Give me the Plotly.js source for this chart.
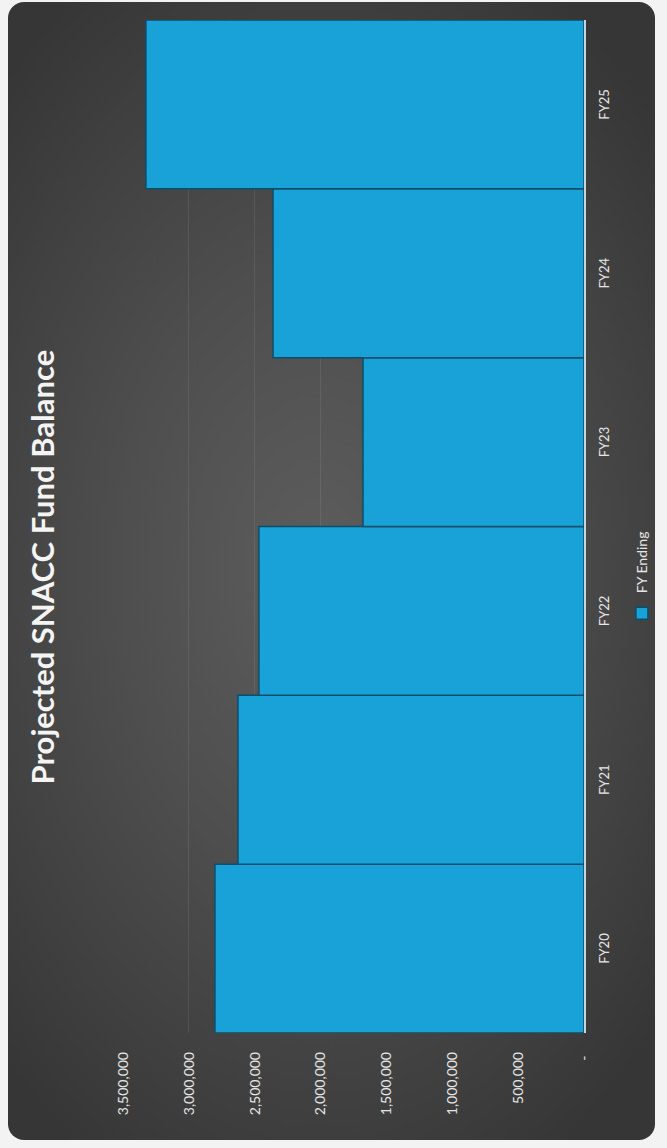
<!DOCTYPE html>
<html>
<head>
<meta charset="utf-8">
<script src="https://cdn.plot.ly/plotly-3.0.1.min.js"></script>
<style>
  html, body { margin:0; padding:0; background:#f3f3f3; width:667px; height:1148px; overflow:hidden; }
  #rot { position:absolute; left:0; top:0; width:1148px; height:667px;
         transform-origin:0 0; transform: translateY(1148px) rotate(-90deg); }
  #card { position:absolute; left:8px; top:8px; width:1138px; height:647px; border-radius:16px;
          background: radial-gradient(ellipse 60% 70% at 50% 48%, #5d5d5d 0%, #4e4e4e 45%, #3f3f3f 80%, #363636 100%); }
  #chart { position:absolute; left:0; top:0; width:1148px; height:667px; }
</style>
</head>
<body>
<div id="rot">
  <div id="card"></div>
  <div id="chart"></div>
</div>
<script>
const categories = ['FY20', 'FY21', 'FY22', 'FY23', 'FY24', 'FY25'];
const fyEnding = [2802000, 2627000, 2468000, 1678000, 2361000, 3326000];
const tickValues = [0, 500000, 1000000, 1500000, 2000000, 2500000, 3000000, 3500000];
const tickLabels = [' - ', '500,000', '1,000,000', '1,500,000', '2,000,000', '2,500,000', '3,000,000', '3,500,000'];
const seriesName = 'FY Ending';
const chartTitle = 'Projected SNACC Fund Balance';

const fontFam = 'Lato, "Open Sans", sans-serif';

const data = [{
  type: 'bar',
  x: categories,
  y: fyEnding,
  name: seriesName,
  marker: { color: '#19a2d7', line: { color: '#0c4e6a', width: 1.5 } },
  hoverinfo: 'x+y'
}];

const layout = {
  width: 1148, height: 667,
  paper_bgcolor: 'rgba(0,0,0,0)',
  plot_bgcolor: 'rgba(0,0,0,0)',
  margin: { l: 115, r: 20, t: 123, b: 83 },
  font: { family: fontFam, color: '#e6e6e6', size: 13 },
  title: {
    text: chartTitle,
    font: { family: fontFam, size: 31, color: '#f4f4f4', weight: 'bold' },
    x: 0.506, xanchor: 'center', xref: 'container',
    y: 0.952, yanchor: 'top', yref: 'container'
  },
  bargap: 0,
  xaxis: {
    categoryorder: 'array', categoryarray: categories,
    showline: true, linecolor: '#c9d3da', linewidth: 1.5,
    showgrid: false, ticks: '', ticklabelstandoff: 8,
    tickfont: { family: fontFam, size: 13, color: '#e6e6e6' }
  },
  yaxis: {
    range: [0, 3500000],
    tickvals: tickValues, ticktext: tickLabels,
    showgrid: true, gridcolor: 'rgba(255,255,255,0.08)', gridwidth: 1,
    zeroline: false, showline: false, ticks: '',
    ticklabelstandoff: 18,
    tickfont: { family: fontFam, size: 14, color: '#e6e6e6' }
  },
  showlegend: true,
  legend: {
    orientation: 'h',
    xref: 'container', x: 0.495, xanchor: 'center',
    yref: 'container', y: 0.037, yanchor: 'middle',
    font: { family: fontFam, size: 14, color: '#e6e6e6' },
    bgcolor: 'rgba(0,0,0,0)', itemwidth: 30
  }
};

Plotly.newPlot('chart', data, layout, { displayModeBar: false, staticPlot: true });
</script>
</body>
</html>
